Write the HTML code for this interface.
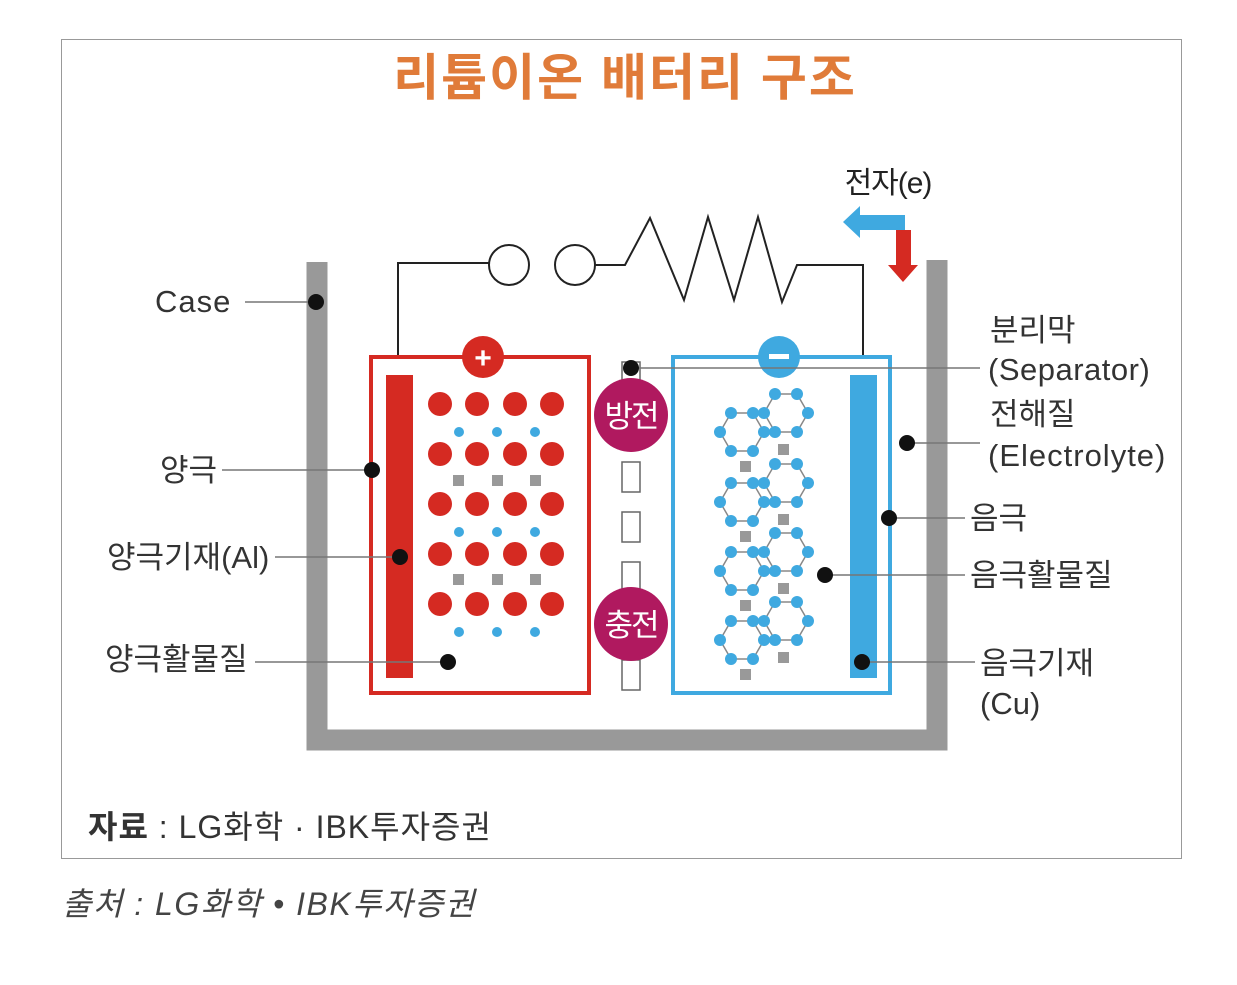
<!DOCTYPE html>
<html><head><meta charset="utf-8"><style>
html,body{margin:0;padding:0;background:#fff;}
svg{display:block;}
text{font-family:"Liberation Sans","Noto Sans CJK KR",sans-serif;}
</style></head><body>
<svg width="1237" height="985" viewBox="0 0 1237 985" xmlns="http://www.w3.org/2000/svg">
<rect x="61.5" y="39.5" width="1120" height="819" fill="#fff" stroke="#999" stroke-width="1"/>
<text x="625" y="95" text-anchor="middle" font-size="50" font-weight="bold" fill="#e07b39" letter-spacing="2">리튬이온 배터리 구조</text>

<path d="M317 262 V740 H937 V260" fill="none" stroke="#999" stroke-width="21"/>

<g fill="none" stroke="#222" stroke-width="2">
<path d="M398 355 V263 H489"/>
<circle cx="509" cy="265" r="20" fill="#fff"/>
<circle cx="575" cy="265" r="20" fill="#fff"/>
<path d="M595 265 H625 L650 218 L684 300 L708 217 L734 300 L758 217 L782 302 L797 265 H863 V355"/>
</g>
<text x="888" y="193" text-anchor="middle" font-size="30" fill="#222" letter-spacing="-1">전자(e)</text>
<path d="M905 215 V230 H860 V238 L843 222 L860 206 V215 Z" fill="#3fa9e0"/>
<path d="M896 230 H911 V265 H918 L903 282 L888 265 H896 Z" fill="#d52a22"/>

<rect x="371" y="357" width="218" height="336" fill="#fff" stroke="#d52a22" stroke-width="4"/>
<rect x="386" y="375" width="27" height="303" fill="#d52a22"/>
<circle cx="483" cy="357" r="21" fill="#d52a22"/>
<text x="483" y="368" text-anchor="middle" font-size="30" font-weight="bold" fill="#fff">+</text>
<g fill="#d52a22">
<circle cx="440" cy="404" r="12"/><circle cx="477" cy="404" r="12"/><circle cx="515" cy="404" r="12"/><circle cx="552" cy="404" r="12"/>
<circle cx="440" cy="454" r="12"/><circle cx="477" cy="454" r="12"/><circle cx="515" cy="454" r="12"/><circle cx="552" cy="454" r="12"/>
<circle cx="440" cy="504" r="12"/><circle cx="477" cy="504" r="12"/><circle cx="515" cy="504" r="12"/><circle cx="552" cy="504" r="12"/>
<circle cx="440" cy="554" r="12"/><circle cx="477" cy="554" r="12"/><circle cx="515" cy="554" r="12"/><circle cx="552" cy="554" r="12"/>
<circle cx="440" cy="604" r="12"/><circle cx="477" cy="604" r="12"/><circle cx="515" cy="604" r="12"/><circle cx="552" cy="604" r="12"/>
</g>
<g fill="#3fa9e0">
<circle cx="459" cy="432" r="5"/><circle cx="497" cy="432" r="5"/><circle cx="535" cy="432" r="5"/>
<circle cx="459" cy="532" r="5"/><circle cx="497" cy="532" r="5"/><circle cx="535" cy="532" r="5"/>
<circle cx="459" cy="632" r="5"/><circle cx="497" cy="632" r="5"/><circle cx="535" cy="632" r="5"/>
</g>
<g fill="#999">
<rect x="453" y="475" width="11" height="11"/><rect x="492" y="475" width="11" height="11"/><rect x="530" y="475" width="11" height="11"/>
<rect x="453" y="574" width="11" height="11"/><rect x="492" y="574" width="11" height="11"/><rect x="530" y="574" width="11" height="11"/>
</g>

<g fill="#fff" stroke="#666" stroke-width="1.5">
<rect x="622" y="362" width="18" height="28"/>
<rect x="622" y="462" width="18" height="30"/>
<rect x="622" y="512" width="18" height="30"/>
<rect x="622" y="562" width="18" height="30"/>
<rect x="622" y="660" width="18" height="30"/>
</g>
<circle cx="631" cy="415" r="37" fill="#b0195f"/>
<text x="631" y="427" text-anchor="middle" font-size="31" fill="#fff" letter-spacing="-2">방전</text>
<circle cx="631" cy="624" r="37" fill="#b0195f"/>
<text x="631" y="636" text-anchor="middle" font-size="31" fill="#fff" letter-spacing="-2">충전</text>

<rect x="673" y="357" width="217" height="336" fill="none" stroke="#3fa9e0" stroke-width="4"/>
<rect x="850" y="375" width="27" height="303" fill="#3fa9e0"/>
<circle cx="779" cy="357" r="21" fill="#3fa9e0"/>
<rect x="769" y="354" width="20" height="5" fill="#fff"/>

<defs>
<g id="hex">
<polygon points="22,0 11,19 -11,19 -22,0 -11,-19 11,-19" fill="none" stroke="#888" stroke-width="1.5"/>
<g fill="#3fa9e0"><circle cx="22" cy="0" r="6"/><circle cx="11" cy="19" r="6"/><circle cx="-11" cy="19" r="6"/><circle cx="-22" cy="0" r="6"/><circle cx="-11" cy="-19" r="6"/><circle cx="11" cy="-19" r="6"/></g>
</g>
<g id="unit">
<use href="#hex" x="742" y="432"/>
<use href="#hex" x="786" y="413"/>
<rect x="740" y="461" width="11" height="11" fill="#999"/>
<rect x="778" y="444" width="11" height="11" fill="#999"/>
</g>
</defs>
<use href="#unit" y="0"/>
<use href="#unit" y="70"/>
<use href="#unit" y="139"/>
<use href="#unit" y="208"/>

<g stroke="#777" stroke-width="1.5">
<line x1="245" y1="302" x2="316" y2="302"/>
<line x1="222" y1="470" x2="372" y2="470"/>
<line x1="275" y1="557" x2="400" y2="557"/>
<line x1="255" y1="662" x2="448" y2="662"/>
<line x1="631" y1="368" x2="980" y2="368"/>
<line x1="907" y1="443" x2="980" y2="443"/>
<line x1="889" y1="518" x2="965" y2="518"/>
<line x1="825" y1="575" x2="965" y2="575"/>
<line x1="862" y1="662" x2="975" y2="662"/>
</g>
<g fill="#111">
<circle cx="316" cy="302" r="8"/><circle cx="372" cy="470" r="8"/><circle cx="400" cy="557" r="8"/><circle cx="448" cy="662" r="8"/>
<circle cx="631" cy="368" r="8"/><circle cx="907" cy="443" r="8"/><circle cx="889" cy="518" r="8"/><circle cx="825" cy="575" r="8"/><circle cx="862" cy="662" r="8"/>
</g>

<g font-size="31" fill="#333">
<text x="155" y="312" letter-spacing="1">Case</text>
<text x="160" y="481">양극</text>
<text x="107" y="568">양극기재(Al)</text>
<text x="105" y="670">양극활물질</text>
<text x="990" y="341">분리막</text>
<text x="988" y="380" letter-spacing="0.5">(Separator)</text>
<text x="990" y="425">전해질</text>
<text x="988" y="466" letter-spacing="1">(Electrolyte)</text>
<text x="970" y="529">음극</text>
<text x="970" y="586">음극활물질</text>
<text x="980" y="674">음극기재</text>
<text x="980" y="714">(Cu)</text>
</g>
<text x="88" y="838" font-size="32" fill="#333" letter-spacing="1"><tspan font-weight="bold">자료</tspan> : LG화학 · IBK투자증권</text>
<text x="62" y="915" font-size="32" font-style="italic" fill="#444" letter-spacing="1.5">출처 : LG화학 • IBK투자증권</text>
</svg>
</body></html>
